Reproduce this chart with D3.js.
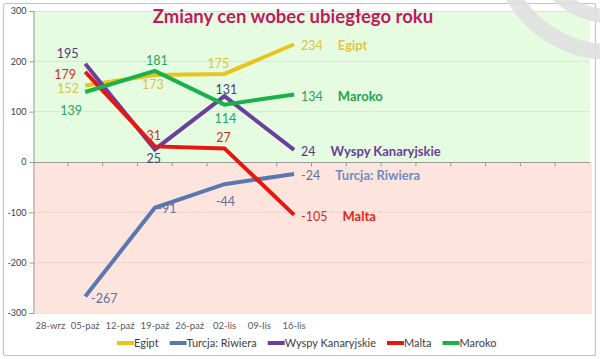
<!DOCTYPE html>
<html><head><meta charset="utf-8">
<script src="https://cdn.jsdelivr.net/npm/d3@7"></script>
<style>body{margin:0;background:#fff}svg{display:block;font-family:Lato,"Open Sans",sans-serif}</style>
</head><body>
<svg id="c" width="600" height="359"></svg>
<script>
// ---- data ----
const categories = ['28-wrz','05-paź','12-paź','19-paź','26-paź','02-lis','09-lis','16-lis','','','','','','','',''];
const seriesNames = ['Egipt','Turcja: Riwiera','Wyspy Kanaryjskie','Malta','Maroko'];
const egipt  = [null, 152, null, 173, null, 175, null, 234];
const turcja = [null,-267, null, -91, null, -44, null, -24];
const wyspy  = [null, 195, null,  25, null, 131, null,  24];
const malta  = [null, 179, null,  31, null,  27, null,-105];
const maroko = [null, 139, null, 181, null, 114, null, 134];
const yTicks = [-300,-200,-100,0,100,200,300];
const title = 'Zmiany cen wobec ubiegłego roku';

// ---- style config ----
const lineColors  = ['#e8c41c','#5a77b2','#6a3f9e','#e8160e','#1bb04e'];
const valueColors = ['#d8c53c','#64709e','#4e3a80','#c83222','#25a55a'];
const nameColors  = ['#e6c43a','#6c8cc6','#6a3d9a','#e2261c','#22a352'];
// label centre offsets (dx, dy) relative to the point, for non-final points
const labelOffsets = [
  [[-17,3.5],[-2,10],[-6,-10]],
  [[19,2],[12,1],[1,17]],
  [[-17.5,-10],[-1,9],[2,-7]],
  [[-20,3],[-1,-11],[-1,-11]],
  [[-14,18],[2,-10],[1,14]]
];

const allSeries = [egipt, turcja, wyspy, malta, maroko];
const svg = d3.select('#c');

// outer border
svg.append('rect').attr('x',3.5).attr('y',3.5).attr('width',592).attr('height',352)
  .attr('fill','#fff').attr('stroke','#c4c4c4').attr('stroke-width',1.2).attr('rx',2);

const x = d3.scaleBand().domain(d3.range(categories.length)).range([33,590]);
const y = d3.scaleLinear().domain([-300,300]).range([313,11]);

// backgrounds
svg.append('rect').attr('x',33).attr('y',y(300)).attr('width',557).attr('height',y(0)-y(300)).attr('fill','#e6fce1');
svg.append('rect').attr('x',33).attr('y',y(0)).attr('width',559).attr('height',y(-300)-y(0)).attr('fill','#fde5de');

// gridlines
const gl = svg.append('g');
yTicks.filter(v=>v!==0 && v!==300 && v!==-300).forEach(v=>{
  gl.append('line').attr('x1',33).attr('x2',590).attr('y1',y(v)).attr('y2',y(v))
    .attr('stroke', v>0 ? '#d3e8cf' : '#eed3cb').attr('stroke-width',1);
});
svg.append('line').attr('x1',33).attr('x2',590).attr('y1',y(300)+0.5).attr('y2',y(300)+0.5).attr('stroke','#d6e6d3');
svg.append('line').attr('x1',33).attr('x2',592).attr('y1',y(-300)+0.5).attr('y2',y(-300)+0.5).attr('stroke','#e6e6e6');

// y axis
const yAxis = d3.axisLeft(y).tickValues(yTicks).tickSize(4).tickPadding(3).tickFormat(d=>d);
const ya = svg.append('g').attr('transform','translate(33.5,0)').call(yAxis);
ya.select('.domain').attr('stroke','#9a9a9a');
ya.selectAll('.tick line').attr('stroke','#9a9a9a');
ya.selectAll('text').attr('font-size','9px').attr('fill','#404040').attr('font-family','Lato');

// x axis at zero with boundary ticks
const bounds = d3.range(1, categories.length).map(i=>x(i));
const xa = svg.append('g').attr('transform',`translate(0,${y(0)+0.5})`);
xa.append('line').attr('x1',33).attr('x2',590).attr('stroke','#9a9a9a');
xa.selectAll('.t').data(bounds).join('line').attr('x1',d=>d).attr('x2',d=>d).attr('y1',0).attr('y2',4).attr('stroke','#9a9a9a');

// category labels at bottom
svg.append('g').selectAll('text').data(categories.map((c,i)=>({c,i})).filter(d=>d.c)).join('text')
  .attr('x',d=>x(d.i)+x.bandwidth()/2).attr('y',329)
  .attr('text-anchor','middle').attr('font-size','9.5px').attr('fill','#595959').text(d=>d.c);

// lines
const line = d3.line().x(d=>x(d.i)+x.bandwidth()/2).y(d=>y(d.v));
allSeries.forEach((s,k)=>{
  const pts = s.map((v,i)=>({v,i})).filter(d=>d.v!==null);
  svg.append('path').datum(pts).attr('d',line).attr('fill','none')
    .attr('stroke',lineColors[k]).attr('stroke-width',4).attr('stroke-linejoin','miter');
});

// labels
allSeries.forEach((s,k)=>{
  const pts = s.map((v,i)=>({v,i})).filter(d=>d.v!==null);
  pts.forEach((d,j)=>{
    const px = x(d.i)+x.bandwidth()/2, py = y(d.v);
    if (j < pts.length-1) {
      const o = labelOffsets[k][j];
      svg.append('text').attr('x',px+o[0]).attr('y',py+o[1]).attr('text-anchor','middle')
        .attr('dominant-baseline','central').attr('font-size','12.5px').attr('fill',valueColors[k]).text(d.v);
    } else {
      const t = svg.append('text').attr('x',px+7).attr('y',py+1).attr('dominant-baseline','central');
      t.append('tspan').attr('font-size','12.5px').attr('fill',valueColors[k]).text(d.v);
      t.append('tspan').attr('dx',15).attr('font-size','13px').attr('font-weight','bold').attr('fill',nameColors[k]).text(seriesNames[k]);
    }
  });
});

// title
svg.append('text').attr('x',293).attr('y',23).attr('text-anchor','middle')
  .attr('font-size','18.5px').attr('font-weight','bold').attr('fill','#c2185f').text(title);

// legend
const lg = svg.append('g');
let lx = 117;
seriesNames.forEach((n,k)=>{
  lg.append('line').attr('x1',lx).attr('x2',lx+17).attr('y1',343).attr('y2',343)
    .attr('stroke',lineColors[k]).attr('stroke-width',4);
  const t = lg.append('text').attr('x',lx+17).attr('y',347).attr('font-size','11px').attr('fill','#404040').text(n);
  lx += 17 + t.node().getComputedTextLength() + 11;
});

// decorative ring in top-right corner
const deco = svg.append('g').attr('fill','none').attr('stroke','#dedede').attr('stroke-opacity',0.85);
deco.append('circle').attr('cx',610).attr('cy',-60).attr('r',112).attr('stroke-width',16);
deco.append('circle').attr('cx',610).attr('cy',-60).attr('r',76).attr('stroke-width',14);
</script>
</body></html>
